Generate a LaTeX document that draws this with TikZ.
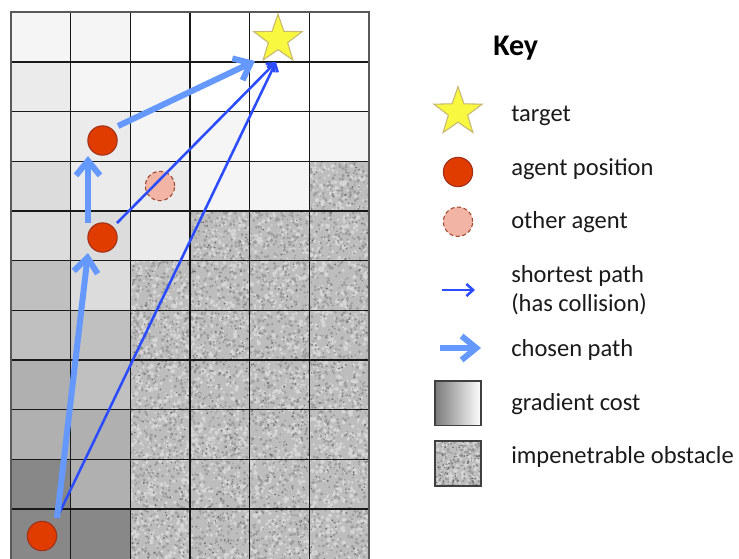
\documentclass[tikz,border=0pt]{standalone}
\usepackage{fontspec}
\setmainfont{Carlito}
\usetikzlibrary{arrows.meta,shapes.geometric,calc}
\definecolor{g1}{HTML}{F5F5F5}
\definecolor{g2}{HTML}{EBEBEB}
\definecolor{g3}{HTML}{DCDCDC}
\definecolor{g4}{HTML}{C0C0C0}
\definecolor{g5}{HTML}{B0B0B0}
\definecolor{g6}{HTML}{888888}
\definecolor{nbase}{HTML}{BDBDBD}
\definecolor{nlight}{HTML}{D6D6D6}
\definecolor{ndark}{HTML}{9C9C9C}
\definecolor{nvdark}{HTML}{6E6E6E}
\definecolor{agentred}{HTML}{E03C00}
\definecolor{agentedge}{HTML}{A0301A}
\definecolor{otherfill}{HTML}{F2B4A4}
\definecolor{otheredge}{HTML}{A04A30}
\definecolor{staryel}{HTML}{F8F840}
\definecolor{staredge}{HTML}{C8B870}
\definecolor{chosenblue}{HTML}{6699FF}
\definecolor{shortblue}{HTML}{2B4DFF}
\definecolor{txt}{HTML}{1A1A1A}
% #1 x, #2 y, #3 w, #4 h, #5 #6 #7 batches (of 100) of light, dark, very dark specks
\newcommand\obsnoise[7]{%
  \fill[nbase] (#1,#2) rectangle ++(#3,#4);
  \foreach \k in {1,...,#5}{\fill[nlight] foreach \i in {1,...,100} {({#1+#3*rnd},{#2+#4*rnd}) circle[radius={1.0+1.2*rnd}]};}
  \foreach \k in {1,...,#6}{\fill[ndark] foreach \i in {1,...,100} {({#1+#3*rnd},{#2+#4*rnd}) circle[radius={0.8+1.0*rnd}]};}
  \foreach \k in {1,...,#7}{\fill[nvdark] foreach \i in {1,...,100} {({#1+#3*rnd},{#2+#4*rnd}) circle[radius={0.5+0.6*rnd}]};}
}
\begin{document}
\begin{tikzpicture}[x=0.75pt,y=-0.75pt,
  agent/.style={circle, fill=agentred, draw=agentedge, line width=0.8pt, minimum size=22pt, inner sep=0pt},
  other/.style={circle, fill=otherfill, draw=otheredge, dash pattern=on 3pt off 2pt, line width=0.8pt, minimum size=22pt, inner sep=0pt},
  target/.style={star, star points=5, star point ratio=2.5, fill=staryel, draw=staredge, line width=0.8pt, minimum size=38pt, inner sep=0pt},
  chosen/.style={draw=chosenblue, line width=4.5pt, -{Straight Barb[length=11pt,width=18pt]}},
  shortp/.style={draw=shortblue, line width=1.9pt, -{Straight Barb[length=5pt,width=9pt]}},
  lbl/.style={anchor=base west, font=\fontsize{18.4}{22}\selectfont, text=txt, inner sep=0pt},
  gridline/.style={draw=black!90, line width=0.9pt}]
\pgfmathsetseed{12345}
\useasboundingbox (0,0) rectangle (739,558);
\fill[white] (0,0) rectangle (739,558);
\def\cw{59.67}
\def\ch{49.67}
% cost shading
\foreach \c/\r/\col in {0/0/g1,1/0/g1,0/1/g2,1/1/g1,2/1/g1,0/2/g2,1/2/g2,2/2/g1,3/2/g1,5/2/g1,
  0/3/g3,1/3/g2,2/3/g2,3/3/g1,4/3/g1,0/4/g3,1/4/g3,2/4/g2,0/5/g4,1/5/g3,0/6/g4,1/6/g4,
  0/7/g5,1/7/g4,0/8/g5,1/8/g5,0/9/g6,1/9/g5,0/10/g6,1/10/g6}
  \fill[\col] ({11+\c*\cw},{12.3+\r*\ch}) rectangle ++(\cw,\ch);
% obstacles
\begin{scope}
  \clip (130.34,260.65) -- (190.01,260.65) -- (190.01,210.98) -- (309.35,210.98) -- (309.35,161.31)
    -- (369.02,161.31) -- (369.02,560) -- (130.34,560) -- cycle;
  \obsnoise{130.34}{161.31}{238.68}{398}{34}{32}{8}
\end{scope}
% grid
\foreach \c in {1,...,5} \draw[gridline] ({11+\c*\cw},12.3) -- ({11+\c*\cw},560);
\foreach \r in {1,...,10} \draw[gridline] (11,{12.3+\r*\ch}) -- (369.02,{12.3+\r*\ch});
\draw[draw=black!65, line width=1.4pt] (11,560) -- (11,12.3) -- (369.02,12.3) -- (369.02,560);
% agents and target
\node[agent] (a1) at (42,536) {};
\node[agent] (a2) at (102.5,237.5) {};
\node[agent] (a3) at (102.5,140.5) {};
\node[other] (oa) at (160,186) {};
\node[target] (tgt) at (278,39.5) {};
\coordinate (s1) at ($(a1)+(15,-18)$);
\coordinate (e1) at ($(a2)+(-14.5,15.5)$);
\coordinate (s2) at ($(a2)+(-14.5,-14.5)$);
\coordinate (e2) at ($(a3)+(-14.5,15.5)$);
\coordinate (s3) at ($(a3)+(15.5,-14.5)$);
\coordinate (e3) at ($(tgt)+(-23,21.5)$);
\coordinate (s4) at ($(a2)+(14.5,-14.5)$);
\coordinate (tb) at ($(tgt)+(-2,22.5)$);
\draw[shortp] (s1) -- (tb);
\draw[shortp] (s4) -- (tb);
\draw[chosen] (s1) -- (e1);
\draw[chosen] (s2) -- (e2);
\draw[chosen] (s3) -- (e3);
% key
\node[anchor=base west, font=\bfseries\fontsize{22.5}{26}\selectfont, text=black, inner sep=0pt] (key) at (493,55) {Key};
\node[target] (ktgt) at (458,112) {};
\node[lbl] (ltgt) at (511,121.7) {target};
\node[agent] (kag) at (458,172) {};
\node[lbl] (lag) at (511,175) {agent position};
\node[other] (koa) at (458,221.7) {};
\node[lbl] (loa) at (511,228) {other agent};
\coordinate (ks1) at (442,290);
\coordinate (ks2) at (475,290);
\draw[shortp] (ks1) -- (ks2);
\node[lbl] (lsp) at (511,282.7) {shortest path};
\node[lbl] (lsp2) at (511,311.7) {(has collision)};
\coordinate (kc1) at (440,348);
\coordinate (kc2) at (481,348);
\draw[chosen] (kc1) -- (kc2);
\node[lbl] (lcp) at (511,356.7) {chosen path};
\shade[left color=g6!90!black, right color=white] (435,381) rectangle (481,425.5);
\draw[draw=black!75, line width=0.9pt] (435,381) rectangle (481,425.5);
\node[lbl] (lgc) at (511,410) {gradient cost};
\begin{scope}
  \clip (435,441) rectangle (481,486);
  \obsnoise{435}{441}{46}{45}{1}{1}{1}
\end{scope}
\draw[draw=black!75, line width=0.9pt] (435,441) rectangle (481,486);
\node[lbl] (lob) at (511,463) {impenetrable obstacle};
\end{tikzpicture}
\end{document}
